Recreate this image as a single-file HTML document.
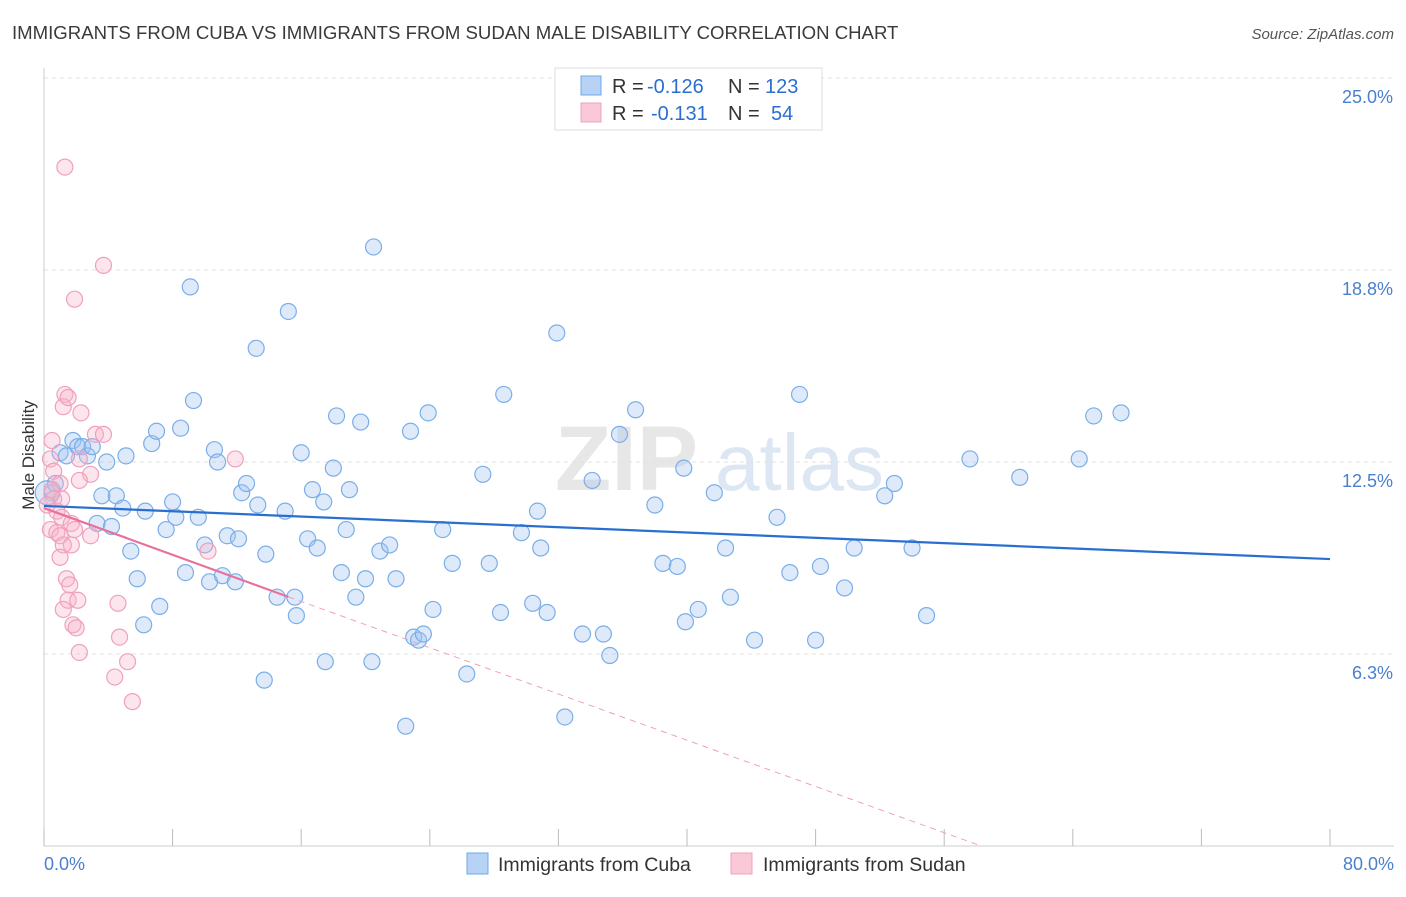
<!DOCTYPE html>
<html><head><meta charset="utf-8"><style>
body{margin:0;background:#fff;font-family:"Liberation Sans",sans-serif}
svg text{font-family:"Liberation Sans",sans-serif}
</style></head><body>
<svg id="chart" width="1406" height="892" xmlns="http://www.w3.org/2000/svg">
<text x="12" y="39" font-size="18.6" fill="#3a3a3a">IMMIGRANTS FROM CUBA VS IMMIGRANTS FROM SUDAN MALE DISABILITY CORRELATION CHART</text>
<text x="1394" y="39" font-size="15" fill="#555" font-style="italic" text-anchor="end">Source: ZipAtlas.com</text>
<g>
<text x="555" y="490" font-size="92" fill="#ddd" font-family="Liberation Serif" font-weight="bold" opacity="0.7">ZIP</text>
<text x="715" y="490" font-size="80" fill="#c8d8ee" opacity="0.6">atlas</text>
</g>
<g id="grid"></g>
<g id="axes"></g>
<g id="marks"></g>
<text transform="translate(34,455) rotate(-90)" font-size="17" fill="#333" text-anchor="middle">Male Disability</text>
<g>
<rect x="555" y="68" width="267" height="62" fill="#fff" stroke="#ddd"/>
<rect x="581" y="76" width="20" height="19" fill="#b7d2f5" stroke="#6fa8e8"/>
<rect x="581" y="103" width="20" height="19" fill="#fbc8d8" stroke="#f0a0bc"/>
<text x="612" y="93" font-size="20" fill="#333">R =</text>
<text x="647" y="93" font-size="20" fill="#2a6fd0">-0.126</text>
<text x="728" y="93" font-size="20" fill="#333">N =</text>
<text x="765" y="93" font-size="20" fill="#2a6fd0">123</text>
<text x="612" y="120" font-size="20" fill="#333">R =</text>
<text x="651" y="120" font-size="20" fill="#2a6fd0">-0.131</text>
<text x="728" y="120" font-size="20" fill="#333">N =</text>
<text x="771" y="120" font-size="20" fill="#2a6fd0">54</text>
</g>
<g>
<rect x="467" y="853" width="21" height="21" fill="#b7d2f5" stroke="#6fa8e8"/>
<text x="498" y="871" font-size="19.5" fill="#333">Immigrants from Cuba</text>
<rect x="731" y="853" width="21" height="21" fill="#fbc8d8" stroke="#f0a0bc"/>
<text x="763" y="871" font-size="19.5" fill="#333">Immigrants from Sudan</text>
</g>
</svg>
<script>
const yTicks=[6.25,12.5,18.75,25];
const yTickLabels=["6.3%","12.5%","18.8%","25.0%"];
const xTicks=[0,8,16,24,32,40,48,56,64,72,80];
const xEndLabels=["0.0%","80.0%"];
const cubaX=[0.5,0.7,1.0,1.4,1.8,2.1,2.4,2.7,3.0,3.3,3.6,3.9,4.2,4.5,4.9,5.1,5.4,5.8,6.2,6.3,6.7,7.0,7.2,7.6,8.0,8.2,8.5,8.8,9.1,9.3,9.6,10.0,10.3,10.6,10.8,11.1,11.4,11.9,12.1,12.3,12.6,13.2,13.3,13.7,13.8,14.5,15.0,15.2,15.6,15.7,16.0,16.4,16.7,17.0,17.4,17.5,18.0,18.2,18.5,18.8,19.0,19.4,19.7,20.0,20.4,20.5,20.9,21.5,21.9,22.5,22.8,23.0,23.3,23.6,23.9,24.2,24.8,25.4,26.3,27.3,27.7,28.4,28.6,29.7,30.4,30.7,30.9,31.3,31.9,32.4,33.5,34.1,34.8,35.2,35.8,36.8,38.0,38.5,39.4,39.8,39.9,40.7,41.7,42.4,42.7,44.2,45.6,46.4,47.0,48.0,48.3,49.8,50.4,52.3,52.9,54.0,54.9,57.6,60.7,64.4,65.3,67.0,0.2];
const cubaY=[11.5,11.8,12.8,12.7,13.2,13.0,13.0,12.7,13.0,10.5,11.4,12.5,10.4,11.4,11.0,12.7,9.6,8.7,7.2,10.9,13.1,13.5,7.8,10.3,11.2,10.7,13.6,8.9,18.2,14.5,10.7,9.8,8.6,12.9,12.5,8.8,10.1,8.6,10.0,11.5,11.8,16.2,11.1,5.4,9.5,8.1,10.9,17.4,8.1,7.5,12.8,10.0,11.6,9.7,11.2,6.0,12.3,14.0,8.9,10.3,11.6,8.1,13.8,8.7,6.0,19.5,9.6,9.8,8.7,3.9,13.5,6.8,6.7,6.9,14.1,7.7,10.3,9.2,5.6,12.1,9.2,7.6,14.7,10.2,7.9,10.9,9.7,7.6,16.7,4.2,6.9,11.9,6.9,6.2,13.4,14.2,11.1,9.2,9.1,12.3,7.3,7.7,11.5,9.7,8.1,6.7,10.7,8.9,14.7,6.7,9.1,8.4,9.7,11.4,11.8,9.7,7.5,12.6,12.0,12.6,14.0,14.1,11.5];
const sudanX=[1.3,3.7,1.9,0.4,0.6,1.0,1.3,1.2,1.5,2.3,3.2,3.7,2.2,2.9,2.2,0.5,0.6,0.8,1.1,0.4,0.8,1.0,1.7,1.9,2.9,1.7,1.2,1.0,1.4,1.6,1.5,2.1,1.2,1.8,2.0,4.6,2.2,4.7,5.2,4.4,5.5,11.9,10.2,0.5,0.2,1.1];
const sudanY=[22.1,18.9,17.8,12.6,12.2,11.8,14.7,14.3,14.6,14.1,13.4,13.4,12.6,12.1,11.9,11.6,11.3,10.9,10.7,10.3,10.2,10.1,10.5,10.3,10.1,9.8,9.8,9.4,8.7,8.5,8.0,8.0,7.7,7.2,7.1,7.9,6.3,6.8,6.0,5.5,4.7,12.6,9.6,13.2,11.1,11.3];
const cubaTrend=[[0,11.07],[80,9.34]];
const sudanTrendSolid=[[0,11.0],[15.2,8.11]];
const sudanTrendDash=[[15.2,8.11],[58.3,0]];

const X0=44,X1=1330,Y0=846,YTOP=78;
const xs=v=>X0+(v/80)*(X1-X0);
const ys=v=>Y0-(v/25)*(Y0-YTOP);
const NS="http://www.w3.org/2000/svg";
function mk(tag,attrs,parent){const e=document.createElementNS(NS,tag);for(const k in attrs)e.setAttribute(k,attrs[k]);parent.appendChild(e);return e;}
const grid=document.getElementById('grid'),axes=document.getElementById('axes'),marks=document.getElementById('marks');
yTicks.forEach((t,i)=>{
 const l=mk('line',{x1:X0,x2:1394,y1:ys(t),y2:ys(t),stroke:'#e2e2e2','stroke-dasharray':'4,4'},grid);
 
 
 const tx=mk('text',{x:1393,y:ys(t)+25,'font-size':18,fill:'#4a7fd0','text-anchor':'end'},axes);
 tx.textContent=yTickLabels[i];
 
 
});
const xa=mk('line',{x1:X0,x2:1394,y1:Y0,y2:Y0,stroke:'#ccc'},axes);


const ya=mk('line',{x1:X0,x2:X0,y1:68,y2:Y0,stroke:'#ccc'},axes);


xTicks.forEach(t=>{
 const l=mk('line',{x1:xs(t),x2:xs(t),y1:Y0,y2:Y0-17,stroke:'#bbb'},axes);
 
 
});
const xl0=mk('text',{x:44,y:870,'font-size':18,fill:'#4a7fd0'},axes);xl0.textContent=xEndLabels[0];


const xl1=mk('text',{x:1394,y:870,'font-size':18,fill:'#4a7fd0','text-anchor':'end'},axes);xl1.textContent=xEndLabels[1];


cubaX.forEach((v,i)=>{
 const c=mk('circle',{cx:xs(v),cy:ys(cubaY[i]),r:i===cubaX.length-1?12:8,fill:'rgba(160,196,240,0.35)',stroke:'#7aaee8','stroke-width':1.2},marks);
 
 
});
sudanX.forEach((v,i)=>{
 const c=mk('circle',{cx:xs(v),cy:ys(sudanY[i]),r:8,fill:'rgba(245,180,200,0.35)',stroke:'#f0a0bc','stroke-width':1.2},marks);
 
 
});
const lc=mk('line',{x1:xs(cubaTrend[0][0]),y1:ys(cubaTrend[0][1]),x2:xs(cubaTrend[1][0]),y2:ys(cubaTrend[1][1]),stroke:'#2a6fd0','stroke-width':2.2},marks);


const ls=mk('line',{x1:xs(sudanTrendSolid[0][0]),y1:ys(sudanTrendSolid[0][1]),x2:xs(sudanTrendSolid[1][0]),y2:ys(sudanTrendSolid[1][1]),stroke:'#e8709a','stroke-width':2.2},marks);


const ld=mk('line',{x1:xs(sudanTrendDash[0][0]),y1:ys(sudanTrendDash[0][1]),x2:xs(sudanTrendDash[1][0]),y2:ys(sudanTrendDash[1][1]),stroke:'#f0a0bc','stroke-width':1,'stroke-dasharray':'6,5'},marks);


</script>
</body></html>
